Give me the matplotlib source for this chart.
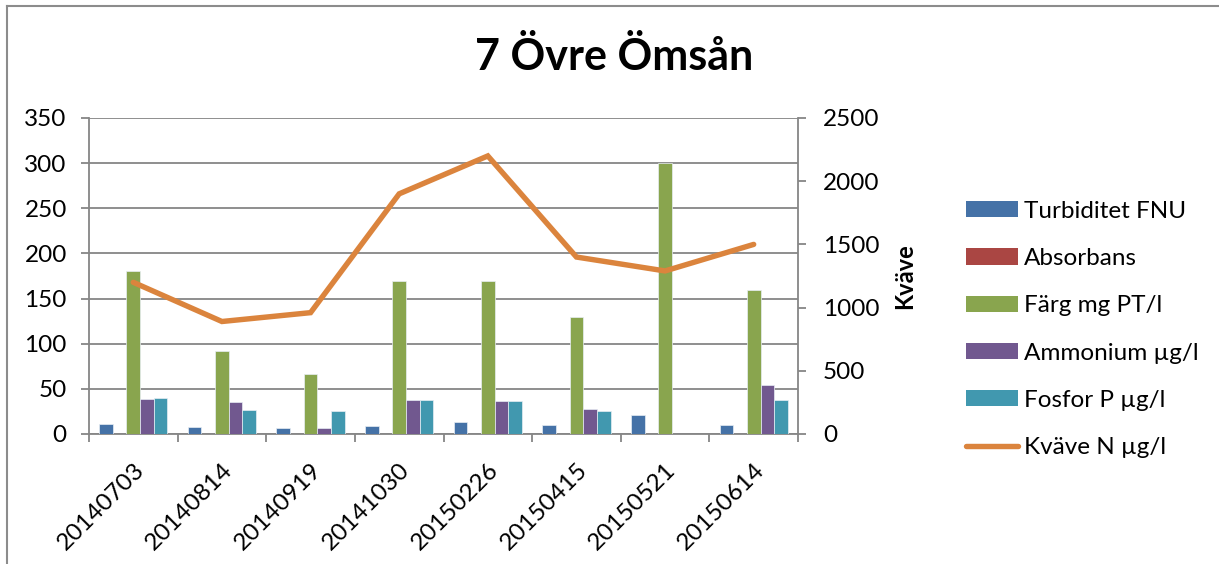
import numpy as np
import matplotlib
matplotlib.use("Agg")
import matplotlib.pyplot as plt
from matplotlib.lines import Line2D
from matplotlib.patches import Patch

plt.rcParams['font.family'] = ['Lato', 'DejaVu Sans']

dates = ["20140703", "20140814", "20140919", "20141030",
         "20150226", "20150415", "20150521", "20150614"]
turbiditet = [11, 8, 7, 9, 13, 10, 21, 10]
absorbans = [0.3, 0.2, 0.2, 0.3, 0.3, 0.2, np.nan, 0.2]
farg = [180, 92, 66, 170, 170, 130, 300, 160]
ammonium = [39, 35, 7, 38, 37, 28, np.nan, 54]
fosfor = [40, 27, 26, 38, 36, 25, np.nan, 38]
kvave = [1200, 890, 960, 1900, 2200, 1400, 1290, 1500]

series_names = ["Turbiditet FNU", "Absorbans", "Färg mg PT/l",
                "Ammonium µg/l", "Fosfor P µg/l"]
bar_series = [turbiditet, absorbans, farg, ammonium, fosfor]
bar_colors = ["#4572A7", "#AA4643", "#89A54E", "#71588F", "#4198AF"]
line_color = "#DB843D"
line_name = "Kväve N µg/l"

W, H = 1219, 564
fig = plt.figure(figsize=(W / 100, H / 100), dpi=100)
ax = fig.add_axes([89 / W, 1 - 434 / H, (798 - 89) / W, (434 - 118) / H])
ax2 = ax.twinx()

x = np.arange(len(dates))
n = len(bar_series)
bw = 1 / (n + 1.5)
for i, (vals, col) in enumerate(zip(bar_series, bar_colors)):
    off = (i - (n - 1) / 2) * bw
    ax.bar(x + off, vals, width=bw, color=col, edgecolor="#e8eef4",
           linewidth=0.5, zorder=3)

ax2.plot(x, kvave, color=line_color, linewidth=3.9, solid_capstyle='round',
         solid_joinstyle='miter', zorder=4)

ax.set_xlim(-0.5, len(dates) - 0.5)
ax.set_ylim(0, 350)
ax2.set_ylim(0, 2500)
ax.set_yticks(np.arange(0, 351, 50))
ax2.set_yticks(np.arange(0, 2501, 500))

grid_c = "#868686"
ax.yaxis.grid(True, color=grid_c, linewidth=1.3, zorder=0)
ax.set_axisbelow(True)
for a in (ax, ax2):
    for s in a.spines.values():
        s.set_visible(False)
for a, side in ((ax, 'left'), (ax, 'bottom'), (ax2, 'right')):
    a.spines[side].set_visible(True)
    a.spines[side].set_color(grid_c)
    a.spines[side].set_linewidth(1.3)

ax.set_xticks(x)
ax.set_xticklabels(dates, rotation=45, ha='right', rotation_mode='anchor',
                   fontsize=17.5)
ax.set_xticks(np.arange(-0.5, len(dates)), minor=True)
ax.tick_params(axis='x', which='major', length=0, pad=18)
ax.tick_params(axis='x', which='minor', length=6, width=1.3, color=grid_c,
               direction='out')
ax.tick_params(axis='y', length=6, width=1.3, color=grid_c, labelsize=17.5,
               pad=10)
ax2.tick_params(axis='y', length=6, width=1.3, color=grid_c, labelsize=17.5,
                pad=12)

ax2.set_ylabel("Kväve", fontsize=17, fontweight='bold', labelpad=10)

fig.text(614 / W, 1 - 57 / H, "7 Övre Ömsån", ha='center', va='center',
         fontsize=31, fontweight='bold')

handles = [Patch(facecolor=c) for c in bar_colors]
handles.append(Line2D([0], [0], color=line_color, linewidth=3.9,
                      solid_capstyle='round'))
labels = series_names + [line_name]
fig.legend(handles, labels, loc='upper left',
           bbox_to_anchor=(944 / W, 1 - 179 / H), frameon=False,
           fontsize=17.5, handlelength=2.15, handleheight=0.65,
           labelspacing=1.08, handletextpad=0.25)

# outer chart border
fig.add_artist(Line2D([7 / W, 7 / W], [0, 1 - 6 / H], color="#8c8c8c",
                      linewidth=1.5, transform=fig.transFigure))
fig.add_artist(Line2D([7 / W, 1], [1 - 6 / H, 1 - 6 / H], color="#8c8c8c",
                      linewidth=1.5, transform=fig.transFigure))

fig.savefig("out.png", dpi=100)
